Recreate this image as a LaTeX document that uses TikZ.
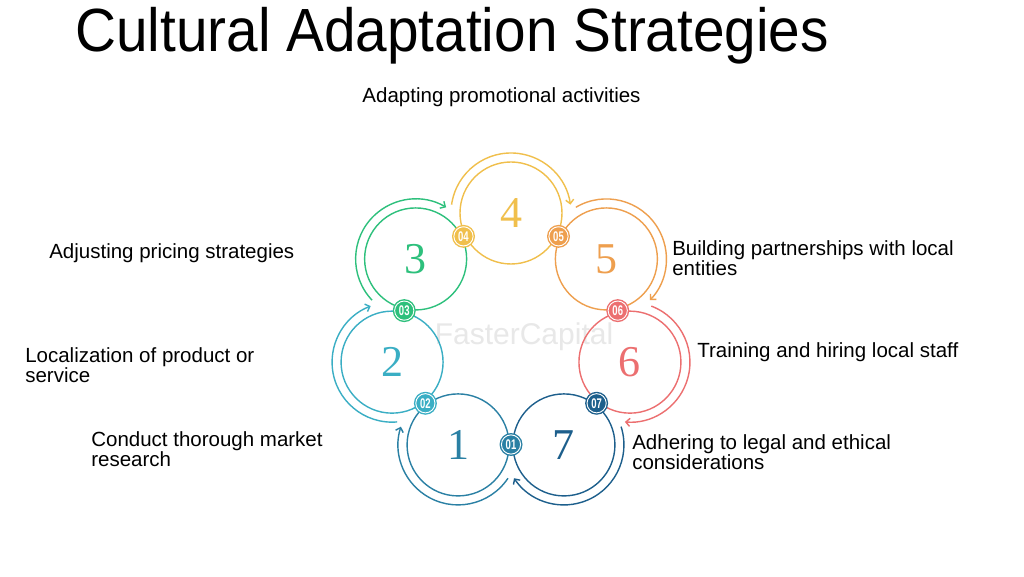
\documentclass[tikz,border=0pt]{standalone}
\usepackage{fontspec}
\setmainfont{Liberation Sans}
\newfontfamily\titlefont{Liberation Sans}[FakeStretch=0.93]
\newfontfamily\numfont{Liberation Serif}
\newfontfamily\badgefont{Liberation Sans}[FakeStretch=0.68]
\usepackage{xcolor}
\usepackage{tikz}
\usetikzlibrary{arrows.meta}
\usetikzlibrary{calc}
\usetikzlibrary{positioning}

\definecolor{col1}{HTML}{2A80A4}
\definecolor{col2}{HTML}{3AAEC4}
\definecolor{col3}{HTML}{2DC07C}
\definecolor{col4}{HTML}{F0BF4C}
\definecolor{col5}{HTML}{EE9F4E}
\definecolor{col6}{HTML}{EC6F70}
\definecolor{col7}{HTML}{1D5F8C}

\begin{document}
\begin{tikzpicture}[x=1pt,y=1pt,semithick]
  \tikzstyle{ring}=[draw, circle, line width=1.4pt, minimum size=102pt, inner sep=0pt, font=\numfont\fontsize{44}{44}\selectfont]
  \tikzstyle{badge}=[circle, minimum size=23pt, inner sep=0pt, text=white, font=\badgefont\bfseries\fontsize{14}{14}\selectfont]
  \tikzstyle{flow}=[line width=1.4pt, -{Straight Barb[length=4pt,width=8pt]}]
  \tikzstyle{lbl}=[anchor=west, align=left, inner sep=0pt, font=\fontsize{20.5}{20}\selectfont]
  \useasboundingbox (0,0) rectangle (1024,576);
  \fill[white] (0,0) rectangle (1024,576);

  \node[anchor=base west, inner sep=0pt, font=\titlefont\fontsize{61}{61}\selectfont] (title) at (75,524) {Cultural Adaptation Strategies};
  \node[text=black!9, inner sep=0pt, font=\fontsize{30}{30}\selectfont] (mark) at (524,239) {FasterCapital};

  \coordinate (c) at (511,241);
  \foreach \k in {1,...,7}{
    \pgfmathsetmacro{\a}{90+(4-\k)*360/7}
    \pgfmathsetmacro{\s}{\a+82}
    \pgfmathsetmacro{\e}{\a-82}
    \node[ring, draw=col\k, text=col\k] (n\k) at ($(c)+(\a:122)$) {\k};
    \draw[flow, draw=col\k] ($(n\k.center)+(\s:60)$) arc[start angle=\s, end angle=\e, radius=60];
  }
  \foreach \k in {1,...,7}{
    \pgfmathsetmacro{\b}{90+(4.5-\k)*360/7}
    \node[badge, fill=col\k] (b\k) at ($(c)+(\b:109.5)$) {0\k};
    \draw[white, line width=0.9pt] (b\k.center) circle[radius=9.6];
  }

  \node[lbl, anchor=base] (l4) at (501.5,473.3) {Adapting promotional activities};
  \node[lbl, anchor=base west] (l3) at (49,317.7) {Adjusting pricing strategies};
  \node[lbl] (l5) at (672,317.5) {Building partnerships with local\\entities};
  \node[lbl, anchor=base west] (l6) at (697,218.3) {Training and hiring local staff};
  \node[lbl] (l2) at (25,210.5) {Localization of product or\\service};
  \node[lbl] (l1) at (91,126.8) {Conduct thorough market\\research};
  \node[lbl] (l7) at (632,123.5) {Adhering to legal and ethical\\considerations};
\end{tikzpicture}
\end{document}
